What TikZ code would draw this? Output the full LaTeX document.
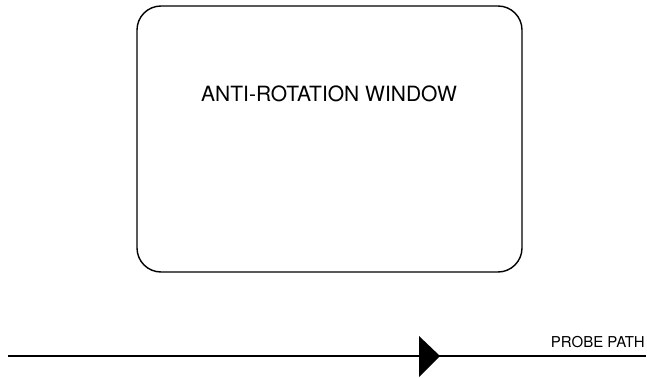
\documentclass[tikz,border=0pt]{standalone}
\usepackage{fontspec}
\setmainfont{TeX Gyre Heros}
\begin{document}
\begin{tikzpicture}
        [
            x=1pt, y=-1pt,
            window/.style={draw, line width=1.4pt, rounded corners=24pt},
            label/.style={font=\fontsize{15}{18}\selectfont, inner sep=0pt},
            path line/.style={line width=1.8pt}
        ]
        \useasboundingbox (0, 0) rectangle (647, 377);
        \draw[window] (137, 6) rectangle (522, 272);
        \node[label, font=\fontsize{21}{25}\selectfont] (title) at (329, 94) {ANTI-ROTATION WINDOW};

        \coordinate (start) at (8, 356);
        \coordinate (finish) at (646, 356);
        \coordinate (tip) at (440, 356);
        \draw[path line] (start) -- (finish);
        \fill (419, 336) -- (tip) -- (419, 377) -- cycle;
        \node[label, anchor=base east] (probe) at (645, 347) {PROBE PATH};
    \end{tikzpicture}
\end{document}
